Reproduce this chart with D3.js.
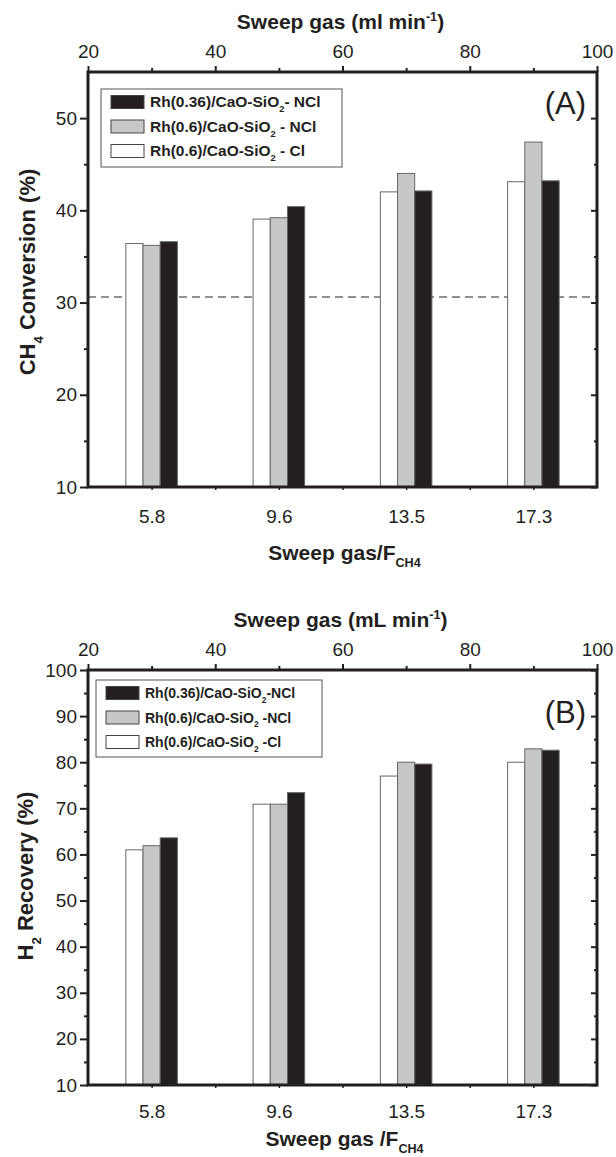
<!DOCTYPE html>
<html>
<head>
<meta charset="utf-8">
<script src="https://cdn.jsdelivr.net/npm/d3@7"></script>
<style>
  body { margin: 0; background: #fff; }
  svg text { font-family: "Liberation Sans", Arial, sans-serif; fill: #231f20; }
</style>
</head>
<body>
<div id="chart"></div>
<script>
// categories (Sweep gas / F_CH4) and the matching sweep flow (mL/min)
var categories = ["5.8", "9.6", "13.5", "17.3"];
var sweepFlow = [30, 50, 70, 90];
var topTicks = [20, 40, 60, 80, 100];

// panel A: CH4 conversion (%)
var convCl     = [36.4, 39.05, 42.0, 43.1];
var convNCl06  = [36.2, 39.2, 44.0, 47.4];
var convNCl036 = [36.6, 40.4, 42.1, 43.2];
var convRef = 30.6; // dashed line

// panel B: H2 recovery (%)
var recCl     = [61.0, 70.9, 77.0, 80.0];
var recNCl06  = [61.9, 70.9, 80.0, 82.9];
var recNCl036 = [63.6, 73.4, 79.6, 82.6];

function init(){

    var w = 616;
    var h = 1157;
    var left = 88, right = 597;

    var svg = d3.select("#chart")
                .append("svg")
                .attr("width", w)
                .attr("height", h);

    var xScale = d3.scaleLinear()
                    .domain([20, 100])
                    .range([left, right]);
    var barW = xScale(22.7) - xScale(20);

    // writes text with subscript / superscript parts
    function rich(g, parts, x, y, size, weight, anchor, rotate){
        var t = g.append("text")
            .attr("x", x).attr("y", y)
            .attr("font-size", size + "px")
            .attr("font-weight", weight)
            .attr("text-anchor", anchor || "start");
        if (rotate) t.attr("transform", "rotate(-90," + x + "," + y + ")");
        parts.forEach(function(p){
            var s = t.append("tspan").text(p.t);
            if (p.sub) s.attr("dy", size * 0.35).attr("font-size", (size * 0.6) + "px");
            else if (p.sup) s.attr("dy", -size * 0.4).attr("font-size", (size * 0.6) + "px");
            if (p.back) s.attr("dy", p.back * size);
        });
        return t;
    }

    function styleTicks(a, wd){
        a.select(".domain").remove();
        a.selectAll("line").attr("stroke-width", wd || 2).attr("stroke", "#231f20");
    }

    function drawPanel(cfg){
        var top = cfg.top, bottom = cfg.bottom;
        var yScale = d3.scaleLinear()
                        .domain(cfg.yDomain)
                        .range([bottom, top]);
        var g = svg.append("g");

        var series = [
            {vals: cfg.cl, fill: "#ffffff", off: -1},
            {vals: cfg.ncl06, fill: "#c6c7c9", off: 0},
            {vals: cfg.ncl036, fill: "#231f20", off: 1}
        ];

        // dashed reference
        if (cfg.ref !== undefined) {
            g.append("line")
                .attr("x1", left).attr("x2", right)
                .attr("y1", yScale(cfg.ref)).attr("y2", yScale(cfg.ref))
                .attr("stroke", "#6d6e70")
                .attr("stroke-width", 1.3)
                .attr("stroke-dasharray", "8,5");
        }

        series.forEach(function(s){
            g.selectAll(null)
                .data(s.vals)
                .enter()
                .append("rect")
                .attr("x", function(d, i){
                    return xScale(sweepFlow[i]) + (s.off - 0.5) * barW;
                })
                .attr("y", function(d){ return yScale(d); })
                .attr("width", barW)
                .attr("height", function(d){ return bottom - yScale(d); })
                .attr("fill", s.fill)
                .attr("stroke", "#666")
                .attr("stroke-width", 1);
        });

        // axes
        var yMajor = d3.range(cfg.yDomain[0], cfg.yDomain[1] + 0.1, 10);
        var yMinor = d3.range(cfg.yDomain[0] + 5, cfg.yDomain[1], 10);

        var ga = g.append("g").attr("transform", "translate(" + left + ",0)")
            .call(d3.axisLeft(yScale).tickValues(yMajor).tickSize(8).tickPadding(3));
        styleTicks(ga);
        ga.selectAll("text").attr("font-size", "19px").attr("fill", "#231f20")
            .attr("font-family", "Liberation Sans, Arial, sans-serif");
        g.append("g").attr("transform", "translate(" + left + ",0)")
            .call(d3.axisLeft(yScale).tickValues(yMinor).tickSize(4).tickFormat(""))
            .call(styleTicks);

        // right axis ticks inward
        g.append("g").attr("transform", "translate(" + right + ",0)")
            .call(d3.axisRight(yScale).tickValues(yMajor).tickSize(-6).tickFormat(""))
            .call(styleTicks);
        g.append("g").attr("transform", "translate(" + right + ",0)")
            .call(d3.axisRight(yScale).tickValues(yMinor).tickSize(-3).tickFormat(""))
            .call(styleTicks);

        // top axis (sweep gas flow)
        var gt = g.append("g").attr("transform", "translate(0," + top + ")")
            .call(d3.axisTop(xScale).tickValues(topTicks).tickSize(6).tickPadding(8));
        styleTicks(gt);
        gt.selectAll("text").attr("font-size", "19px").attr("fill", "#231f20")
            .attr("font-family", "Liberation Sans, Arial, sans-serif");
        g.append("g").attr("transform", "translate(0," + top + ")")
            .call(d3.axisTop(xScale).tickValues([30, 50, 70, 90]).tickSize(4).tickFormat(""))
            .call(styleTicks);

        // bottom axis (categories)
        var gb = g.append("g").attr("transform", "translate(0," + bottom + ")")
            .call(d3.axisBottom(xScale).tickValues(sweepFlow)
                .tickFormat(function(d, i){ return categories[i]; })
                .tickSize(3).tickPadding(cfg.bottomPad));
        styleTicks(gb, 1.5);
        gb.selectAll("text").attr("font-size", "19px").attr("fill", "#231f20")
            .attr("font-family", "Liberation Sans, Arial, sans-serif");
        g.append("g").attr("transform", "translate(0," + bottom + ")")
            .call(d3.axisBottom(xScale).tickValues([40, 60, 80]).tickSize(3).tickFormat(""))
            .call(function(a){ styleTicks(a, 1.5); });

        // frame
        g.append("rect")
            .attr("x", left).attr("y", top)
            .attr("width", right - left).attr("height", bottom - top)
            .attr("fill", "none")
            .attr("stroke", "#231f20")
            .attr("stroke-width", 3);

        // titles
        rich(g, cfg.topTitle, (left + right) / 2 - 2, top - 43, 21, "bold", "middle");
        rich(g, cfg.bottomTitle, (left + right) / 2 + 2, bottom + cfg.bottomTitleOff, 21, "bold", "middle");
        rich(g, cfg.yTitle, cfg.yTitleX, cfg.yTitleY, 22, "bold", "middle", true);

        // panel letter
        g.append("text")
            .attr("x", right - 11).attr("y", cfg.letterY)
            .attr("text-anchor", "end")
            .attr("font-size", "31px")
            .text(cfg.letter);

        // legend
        var lg = cfg.legend;
        g.append("rect")
            .attr("x", lg.x).attr("y", lg.y)
            .attr("width", lg.w).attr("height", lg.h)
            .attr("fill", "#fff")
            .attr("stroke", "#555")
            .attr("stroke-width", 1);
        var legFill = ["#231f20", "#c6c7c9", "#ffffff"];
        lg.labels.forEach(function(parts, i){
            var cy = lg.y + 13 + i * 24.5;
            g.append("rect")
                .attr("x", lg.x + 10).attr("y", cy - 6.5)
                .attr("width", 33).attr("height", 13)
                .attr("fill", legFill[i])
                .attr("stroke", "#444")
                .attr("stroke-width", 1);
            rich(g, parts, lg.x + 49, cy + 5, lg.size, "bold", "start");
        });
    }

    drawPanel({
        top: 72, bottom: 487,
        yDomain: [10, 55],
        cl: convCl, ncl06: convNCl06, ncl036: convNCl036,
        ref: convRef,
        bottomPad: 20,
        bottomTitleOff: 73,
        topTitle: [{t: "Sweep gas (ml min"}, {t: "-1", sup: true}, {t: ")", back: 0.4}],
        bottomTitle: [{t: "Sweep gas/F"}, {t: "CH4", sub: true}],
        yTitle: [{t: "CH"}, {t: "4", sub: true}, {t: " Conversion (%)", back: -0.35}],
        yTitleX: 35, yTitleY: 272,
        letter: "(A)", letterY: 114,
        legend: {x: 101, y: 89, w: 241, h: 78, size: 15.5, labels: [
            [{t: "Rh(0.36)/CaO-SiO"}, {t: "2", sub: true}, {t: "- NCl", back: -0.35}],
            [{t: "Rh(0.6)/CaO-SiO"}, {t: "2", sub: true}, {t: " - NCl", back: -0.35}],
            [{t: "Rh(0.6)/CaO-SiO"}, {t: "2", sub: true}, {t: " - Cl", back: -0.35}]
        ]}
    });

    drawPanel({
        top: 670, bottom: 1085,
        yDomain: [10, 100],
        cl: recCl, ncl06: recNCl06, ncl036: recNCl036,
        bottomPad: 17,
        bottomTitleOff: 61,
        topTitle: [{t: "Sweep gas (mL min"}, {t: "-1", sup: true}, {t: ")", back: 0.4}],
        bottomTitle: [{t: "Sweep gas /F"}, {t: "CH4", sub: true}],
        yTitle: [{t: "H"}, {t: "2", sub: true}, {t: " Recovery (%)", back: -0.35}],
        yTitleX: 33, yTitleY: 876,
        letter: "(B)", letterY: 723,
        legend: {x: 96, y: 680, w: 226, h: 77, size: 14, labels: [
            [{t: "Rh(0.36)/CaO-SiO"}, {t: "2", sub: true}, {t: "-NCl", back: -0.35}],
            [{t: "Rh(0.6)/CaO-SiO"}, {t: "2", sub: true}, {t: " -NCl", back: -0.35}],
            [{t: "Rh(0.6)/CaO-SiO"}, {t: "2", sub: true}, {t: " -Cl", back: -0.35}]
        ]}
    });
}

window.onload = init;
</script>
</body>
</html>
